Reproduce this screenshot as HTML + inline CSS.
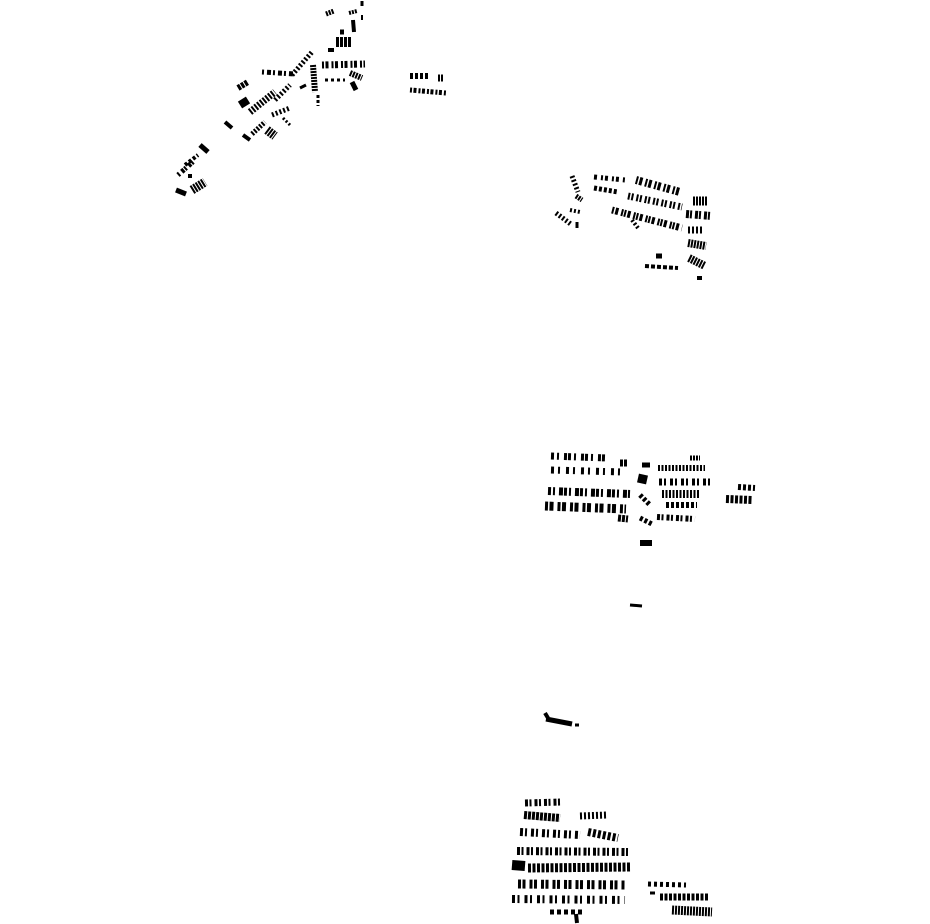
<!DOCTYPE html>
<html><head><meta charset="utf-8"><style>html,body{margin:0;padding:0;background:#fff;width:930px;height:924px;overflow:hidden}</style></head>
<body>
<svg width="930" height="924" viewBox="0 0 930 924" xmlns="http://www.w3.org/2000/svg">
<g stroke="#000" fill="none" stroke-dasharray="3 2">
<!-- Cluster A -->
<line x1="178" y1="175" x2="195" y2="160" stroke-width="5" stroke-dasharray="2 3 3 1"/>
<line x1="185" y1="165" x2="198" y2="155" stroke-width="4"/>
<line x1="200" y1="145" x2="208" y2="152" stroke-width="5" stroke-dasharray="none"/>
<line x1="176" y1="190" x2="186" y2="194" stroke-width="5" stroke-dasharray="none"/>
<line x1="192" y1="190" x2="205" y2="182" stroke-width="9" stroke-dasharray="2 1"/>
<line x1="188" y1="176" x2="192" y2="176" stroke-width="4" stroke-dasharray="none"/>
<line x1="225" y1="122" x2="232" y2="128" stroke-width="4" stroke-dasharray="none"/>
<line x1="243" y1="135" x2="250" y2="140" stroke-width="4" stroke-dasharray="none"/>
<line x1="238" y1="88" x2="248" y2="82" stroke-width="6" stroke-dasharray="3 1"/>
<line x1="240" y1="105" x2="248" y2="100" stroke-width="8" stroke-dasharray="none"/>
<line x1="250" y1="112" x2="275" y2="92" stroke-width="7" stroke-dasharray="2 1.5"/>
<line x1="252" y1="134" x2="265" y2="122" stroke-width="5" stroke-dasharray="2 1.5"/>
<line x1="267" y1="130" x2="275" y2="136" stroke-width="9" stroke-dasharray="2 1"/>
<line x1="262" y1="72" x2="295" y2="74" stroke-width="5" stroke-dasharray="2 3 4 2"/>
<line x1="275" y1="100" x2="290" y2="85" stroke-width="5" stroke-dasharray="2 2"/>
<line x1="272" y1="115" x2="290" y2="108" stroke-width="5" stroke-dasharray="2 2"/>
<line x1="283" y1="118" x2="290" y2="125" stroke-width="3" stroke-dasharray="2 2"/>
<line x1="292" y1="75" x2="312" y2="52" stroke-width="5" stroke-dasharray="2 2"/>
<line x1="300" y1="88" x2="306" y2="85" stroke-width="3" stroke-dasharray="none"/>
<line x1="313" y1="65" x2="315" y2="92" stroke-width="6" stroke-dasharray="2 1"/>
<line x1="318" y1="95" x2="318" y2="106" stroke-width="3" stroke-dasharray="3 2"/>
<line x1="322" y1="65" x2="365" y2="64" stroke-width="7" stroke-dasharray="2 1.5 3 3"/>
<line x1="325" y1="80" x2="345" y2="80" stroke-width="3" stroke-dasharray="3 3"/>
<line x1="350" y1="73" x2="362" y2="78" stroke-width="6" stroke-dasharray="2 1"/>
<line x1="352" y1="82" x2="356" y2="90" stroke-width="5" stroke-dasharray="none"/>
<line x1="336" y1="42" x2="352" y2="42" stroke-width="10" stroke-dasharray="3 1"/>
<line x1="328" y1="50" x2="334" y2="50" stroke-width="4" stroke-dasharray="none"/>
<line x1="340" y1="32" x2="344" y2="32" stroke-width="5" stroke-dasharray="none"/>
<line x1="353" y1="20" x2="354" y2="32" stroke-width="4" stroke-dasharray="none"/>
<line x1="349" y1="13" x2="357" y2="11" stroke-width="4" stroke-dasharray="2 1"/>
<line x1="362" y1="15" x2="362" y2="20" stroke-width="2" stroke-dasharray="none"/>
<line x1="326" y1="14" x2="334" y2="11" stroke-width="5" stroke-dasharray="2 1"/>
<line x1="362" y1="1" x2="362" y2="6" stroke-width="3" stroke-dasharray="none"/>
<line x1="410" y1="76" x2="428" y2="76" stroke-width="6" stroke-dasharray="3 2"/>
<line x1="438" y1="78" x2="443" y2="78" stroke-width="7" stroke-dasharray="2 1"/>
<line x1="410" y1="90" x2="446" y2="93" stroke-width="5" stroke-dasharray="2 1.5 3 2"/>
<!-- Cluster B -->
<line x1="572" y1="176" x2="578" y2="192" stroke-width="5" stroke-dasharray="2 2"/>
<line x1="576" y1="196" x2="582" y2="200" stroke-width="5" stroke-dasharray="2 1"/>
<line x1="556" y1="213" x2="572" y2="225" stroke-width="5" stroke-dasharray="2 2"/>
<line x1="570" y1="210" x2="580" y2="212" stroke-width="4" stroke-dasharray="2 2"/>
<line x1="577" y1="222" x2="577" y2="228" stroke-width="3" stroke-dasharray="none"/>
<line x1="594" y1="177" x2="625" y2="180" stroke-width="5" stroke-dasharray="3 4 2 2"/>
<line x1="594" y1="188" x2="618" y2="192" stroke-width="5" stroke-dasharray="3 2"/>
<line x1="636" y1="180" x2="680" y2="192" stroke-width="8" stroke-dasharray="2 1.5 3 3"/>
<line x1="628" y1="196" x2="682" y2="207" stroke-width="7" stroke-dasharray="2 1.5 2 3"/>
<line x1="612" y1="210" x2="682" y2="228" stroke-width="7" stroke-dasharray="2 1.5 3 3 2 1"/>
<line x1="632" y1="220" x2="638" y2="228" stroke-width="4" stroke-dasharray="2 2"/>
<line x1="693" y1="201" x2="708" y2="201" stroke-width="9" stroke-dasharray="2 1"/>
<line x1="686" y1="214" x2="712" y2="216" stroke-width="8" stroke-dasharray="3 1 2 3"/>
<line x1="688" y1="230" x2="704" y2="230" stroke-width="7" stroke-dasharray="2 2"/>
<line x1="688" y1="243" x2="706" y2="246" stroke-width="8" stroke-dasharray="2 1"/>
<line x1="689" y1="258" x2="705" y2="266" stroke-width="8" stroke-dasharray="2 1"/>
<line x1="645" y1="266" x2="678" y2="268" stroke-width="4" stroke-dasharray="4 2"/>
<line x1="656" y1="256" x2="662" y2="256" stroke-width="5" stroke-dasharray="none"/>
<line x1="697" y1="278" x2="702" y2="278" stroke-width="4" stroke-dasharray="none"/>
<!-- Cluster C -->
<line x1="551" y1="456" x2="607" y2="458" stroke-width="7" stroke-dasharray="3 3 2 5 3 1"/>
<line x1="620" y1="463" x2="628" y2="463" stroke-width="7" stroke-dasharray="3 1"/>
<line x1="551" y1="470" x2="623" y2="472" stroke-width="7" stroke-dasharray="3 4 2 6"/>
<line x1="548" y1="491" x2="630" y2="494" stroke-width="8" stroke-dasharray="3 2 2 4 4 1"/>
<line x1="545" y1="506" x2="626" y2="509" stroke-width="9" stroke-dasharray="3 1.5 4 4"/>
<line x1="618" y1="518" x2="628" y2="519" stroke-width="7" stroke-dasharray="3 1"/>
<line x1="642" y1="465" x2="650" y2="465" stroke-width="5" stroke-dasharray="none"/>
<line x1="638" y1="478" x2="647" y2="480" stroke-width="9" stroke-dasharray="none"/>
<line x1="640" y1="495" x2="650" y2="505" stroke-width="5" stroke-dasharray="3 2"/>
<line x1="640" y1="518" x2="652" y2="524" stroke-width="5" stroke-dasharray="3 2"/>
<line x1="658" y1="468" x2="705" y2="468" stroke-width="6" stroke-dasharray="2 1.5"/>
<line x1="690" y1="458" x2="700" y2="458" stroke-width="5" stroke-dasharray="2 1"/>
<line x1="659" y1="482" x2="712" y2="482" stroke-width="7" stroke-dasharray="3 2 2 4"/>
<line x1="662" y1="494" x2="700" y2="494" stroke-width="8" stroke-dasharray="2 1.5"/>
<line x1="666" y1="505" x2="697" y2="505" stroke-width="6" stroke-dasharray="3 2"/>
<line x1="657" y1="517" x2="695" y2="519" stroke-width="6" stroke-dasharray="3 1.5 2 3"/>
<line x1="738" y1="487" x2="755" y2="488" stroke-width="6" stroke-dasharray="3 2"/>
<line x1="726" y1="499" x2="752" y2="500" stroke-width="8" stroke-dasharray="3 1.5"/>
<line x1="640" y1="543" x2="652" y2="543" stroke-width="6" stroke-dasharray="none"/>
<line x1="630" y1="605" x2="642" y2="606" stroke-width="3" stroke-dasharray="none"/>
<line x1="545" y1="713" x2="548" y2="718" stroke-width="4" stroke-dasharray="none"/>
<line x1="546" y1="719" x2="572" y2="724" stroke-width="5" stroke-dasharray="none"/>
<line x1="575" y1="725" x2="579" y2="725" stroke-width="3" stroke-dasharray="none"/>
<!-- Cluster D -->
<line x1="525" y1="803" x2="562" y2="802" stroke-width="7" stroke-dasharray="3 1.5 2 3"/>
<line x1="524" y1="815" x2="560" y2="818" stroke-width="8" stroke-dasharray="3 1"/>
<line x1="580" y1="816" x2="607" y2="815" stroke-width="7" stroke-dasharray="2 2"/>
<line x1="520" y1="832" x2="580" y2="835" stroke-width="8" stroke-dasharray="3 2 2 4"/>
<line x1="588" y1="832" x2="618" y2="838" stroke-width="8" stroke-dasharray="3 2"/>
<line x1="517" y1="851" x2="628" y2="852" stroke-width="8" stroke-dasharray="3 1.5 2 3"/>
<line x1="512" y1="865" x2="525" y2="866" stroke-width="10" stroke-dasharray="none"/>
<line x1="528" y1="868" x2="630" y2="867" stroke-width="9" stroke-dasharray="3 1.5"/>
<line x1="518" y1="884" x2="625" y2="885" stroke-width="9" stroke-dasharray="3 1.5 3 4"/>
<line x1="512" y1="899" x2="625" y2="900" stroke-width="8" stroke-dasharray="3 2.5 2 5"/>
<line x1="550" y1="912" x2="582" y2="912" stroke-width="5" stroke-dasharray="4 3"/>
<line x1="576" y1="914" x2="577" y2="923" stroke-width="4" stroke-dasharray="none"/>
<line x1="648" y1="884" x2="686" y2="885" stroke-width="5" stroke-dasharray="3 3"/>
<line x1="650" y1="893" x2="655" y2="893" stroke-width="3" stroke-dasharray="none"/>
<line x1="660" y1="897" x2="708" y2="897" stroke-width="7" stroke-dasharray="3 1.5"/>
<line x1="672" y1="910" x2="712" y2="912" stroke-width="9" stroke-dasharray="2 1"/>
</g>
</svg>
</body></html>
